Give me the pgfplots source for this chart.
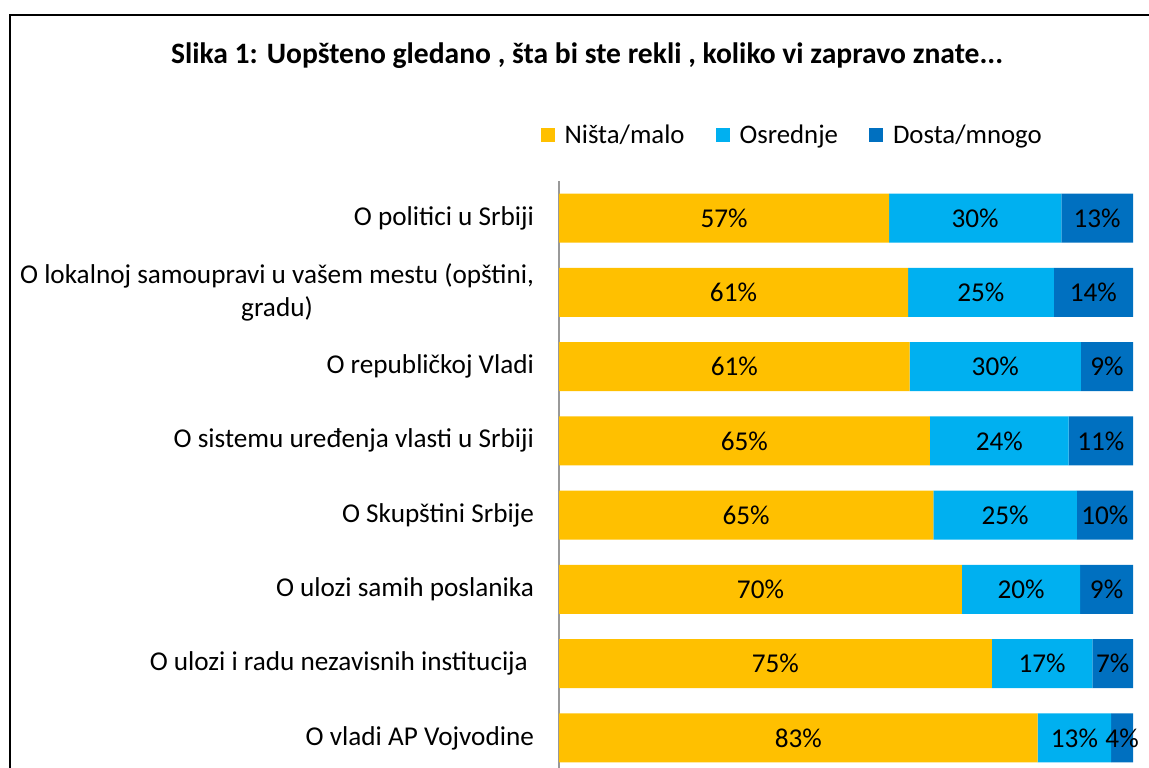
\documentclass[border=0pt]{standalone}
\usepackage{pgfplots}
\pgfplotsset{compat=1.18}
\usepackage{pgfplotstable}
\usepackage{fontspec}
\setmainfont{Carlito}
\definecolor{cY}{HTML}{FFC000}
\definecolor{cL}{HTML}{00B0F0}
\definecolor{cD}{HTML}{0070C0}
\pgfplotstableread{
pos a b c la lb lc
0 57.5 30.0 12.5 57 30 13
1 60.8 25.4 13.8 61 25 14
2 61.1 29.8 9.1 61 30 9
3 64.6 24.2 11.2 65 24 11
4 65.2 25.0 9.8 65 25 10
5 70.2 20.6 9.2 70 20 9
6 75.4 17.5 7.1 75 17 7
7 83.4 12.8 3.8 83 13 4
}\data
\begin{document}
\begin{tikzpicture}
\useasboundingbox (0,0) rectangle (574.5pt,383.5pt);
\draw[line width=0.8pt] (5pt,-2pt) -- (5pt,376pt) -- (580pt,376pt);
\node[font=\fontsize{14.8}{17}\selectfont\bfseries] at (293.5pt,355.5pt) {Slika 1: Uopšteno gledano , šta bi ste rekli , koliko vi zapravo znate...};
\begin{axis}[
  at={(279.5pt,293pt)}, anchor=north west,
  scale only axis, width=287pt, height=297pt,
  xbar stacked, bar width=24.5pt,
  xmin=0, xmax=100, ymin=-0.5, ymax=7.5, y dir=reverse,
  axis x line=none, axis y line*=left,
  y axis line style={draw=gray!80, line width=0.6pt},
  ytick={0,...,7},
  yticklabels={{O politici u Srbiji},{O lokalnoj samoupravi u vašem mestu (opštini,\\gradu)},{O republičkoj Vladi},{O sistemu uređenja vlasti u Srbiji},{O Skupštini Srbije},{O ulozi samih poslanika},{O ulozi i radu nezavisnih institucija\hspace*{3pt}},{O vladi AP Vojvodine}},
  yticklabel style={align=center, font=\fontsize{13.6}{16.5}\selectfont, text=black, xshift=-9pt},
  major y tick style={draw=none},
  extra y ticks={-0.5,0.5,...,7.5}, extra y tick labels={},
  extra y tick style={major tick length=4pt, tick align=outside, tick style={draw=gray!80, line width=0.6pt}},
  nodes near coords={\pgfplotspointmeta\%},
  every node near coord/.append style={anchor=center, font=\fontsize{13.6}{16}\selectfont, text=black},
  point meta=explicit symbolic,
  legend style={draw=none, at={(0.408,1.077)}, anchor=center, legend columns=3, font=\fontsize{13.4}{16}\selectfont,
    /tikz/every even column/.append style={column sep=13.5pt},
    /tikz/every odd column/.append style={column sep=3pt}},
  legend image code/.code={\fill[#1] (0pt,-3.5pt) rectangle (7pt,3.5pt);},
]
\addplot[fill=cY, draw=none] table[x=a, y=pos, meta=la]{\data};
\addlegendentry{Ništa/malo}
\addplot[fill=cL, draw=none] table[x=b, y=pos, meta=lb]{\data};
\addlegendentry{Osrednje}
\addplot[fill=cD, draw=none] table[x=c, y=pos, meta=lc]{\data};
\addlegendentry{Dosta/mnogo}
\end{axis}
\end{tikzpicture}
\end{document}
